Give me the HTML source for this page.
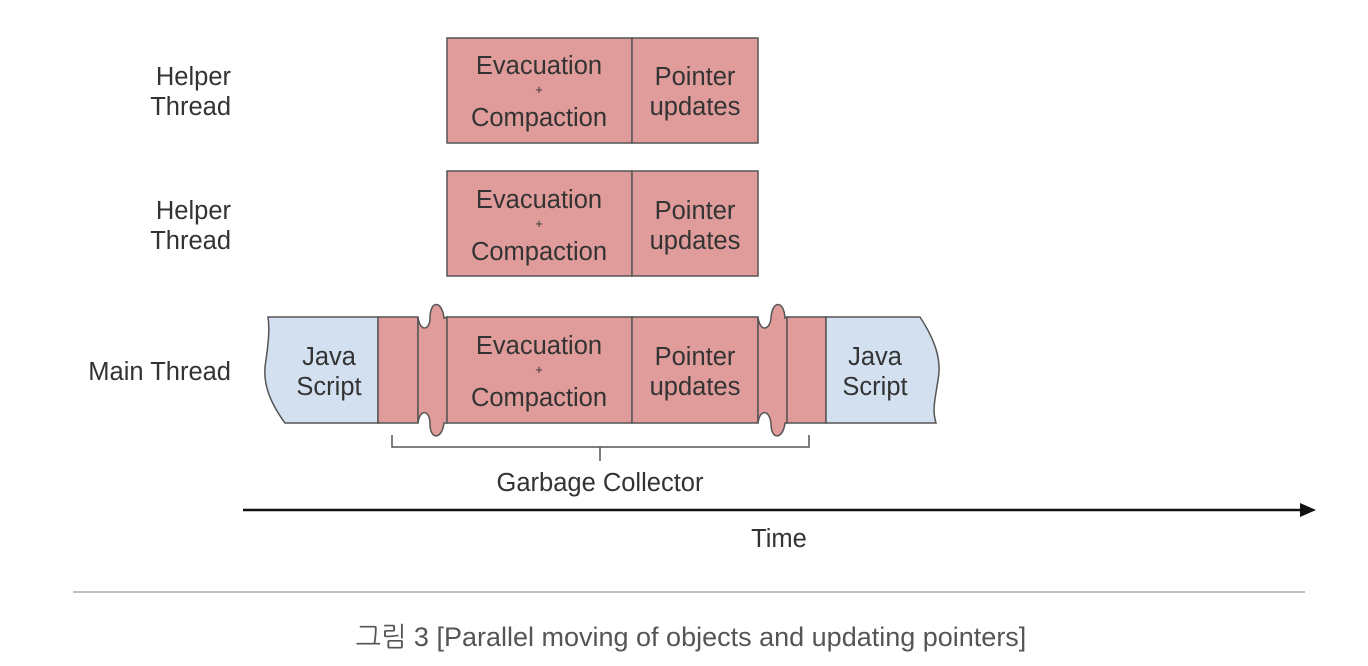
<!DOCTYPE html>
<html><head><meta charset="utf-8"><style>
html,body{margin:0;padding:0;background:#fff;width:1368px;height:666px;overflow:hidden}
svg{display:block}
text{font-family:"Liberation Sans",sans-serif;fill:#333}
</style></head><body>
<svg width="1368" height="666" viewBox="0 0 1368 666">
<g stroke="#555" stroke-width="1.5">
<rect x="447" y="38" width="185" height="105" fill="#e09c9a"/>
<rect x="632" y="38" width="126" height="105" fill="#e09c9a"/>
<rect x="447" y="171" width="185" height="105" fill="#e09c9a"/>
<rect x="632" y="171" width="126" height="105" fill="#e09c9a"/>
<path d="M268,317 L378,317 L378,423 L285,423 C268,400 262,380 266,360 C268,345 270,330 268,317 Z" fill="#d3e0f0"/>
<rect x="378" y="317" width="40" height="106" fill="#e09c9a"/>
<path d="M418,317 C420,333 430,330 430,318 C430,300 442,300 444,318 L447,317 L447,423 L444,423 C442,440 430,440 430,424 C430,410 420,408 418,423 Z" fill="#e09c9a"/>
<rect x="447" y="317" width="185" height="106" fill="#e09c9a"/>
<rect x="632" y="317" width="126" height="106" fill="#e09c9a"/>
<path d="M758,317 C760,333 770,330 771,318 C772,300 784,300 785,318 L787,317 L787,423 L785,423 C783,440 771,440 771,424 C770,410 760,408 758,423 Z" fill="#e09c9a"/>
<rect x="787" y="317" width="39" height="106" fill="#e09c9a"/>
<path d="M826,317 L920,317 C935,340 942,360 938,380 C935,400 932,410 936,423 L826,423 Z" fill="#d3e0f0"/>
</g>
<g font-size="25.5" text-anchor="middle">
<text x="539" y="74">Evacuation</text><text x="539" y="94" font-size="13">+</text><text x="539" y="126">Compaction</text>
<text x="695" y="85">Pointer</text><text x="695" y="115">updates</text>
<text x="539" y="208">Evacuation</text><text x="539" y="228" font-size="13">+</text><text x="539" y="260">Compaction</text>
<text x="695" y="219">Pointer</text><text x="695" y="249">updates</text>
<text x="539" y="354">Evacuation</text><text x="539" y="374" font-size="13">+</text><text x="539" y="406">Compaction</text>
<text x="695" y="365">Pointer</text><text x="695" y="395">updates</text>
<text x="329" y="365">Java</text><text x="329" y="395">Script</text>
<text x="875" y="365">Java</text><text x="875" y="395">Script</text>
<text x="600" y="491">Garbage Collector</text>
<text x="779" y="547">Time</text>
</g>
<g font-size="25.5" text-anchor="end">
<text x="231" y="85">Helper</text><text x="231" y="115">Thread</text>
<text x="231" y="219">Helper</text><text x="231" y="249">Thread</text>
<text x="231" y="380">Main Thread</text>
</g>
<path d="M392,435 L392,447 L600,447 L600,461 M600,447 L809,447 L809,435" fill="none" stroke="#555" stroke-width="1.5"/>
<line x1="243" y1="510" x2="1302" y2="510" stroke="#111" stroke-width="2.5"/>
<polygon points="1316,510 1300,503 1300,517" fill="#111"/>
<line x1="73" y1="592" x2="1305" y2="592" stroke="#aaa" stroke-width="1.5"/>
<text x="691" y="646" font-size="27" text-anchor="middle" style="font-family:'Liberation Sans','NanumGothic','Noto Sans CJK KR',sans-serif;fill:#555">그림 3 [Parallel moving of objects and updating pointers]</text>
</svg>
</body></html>
